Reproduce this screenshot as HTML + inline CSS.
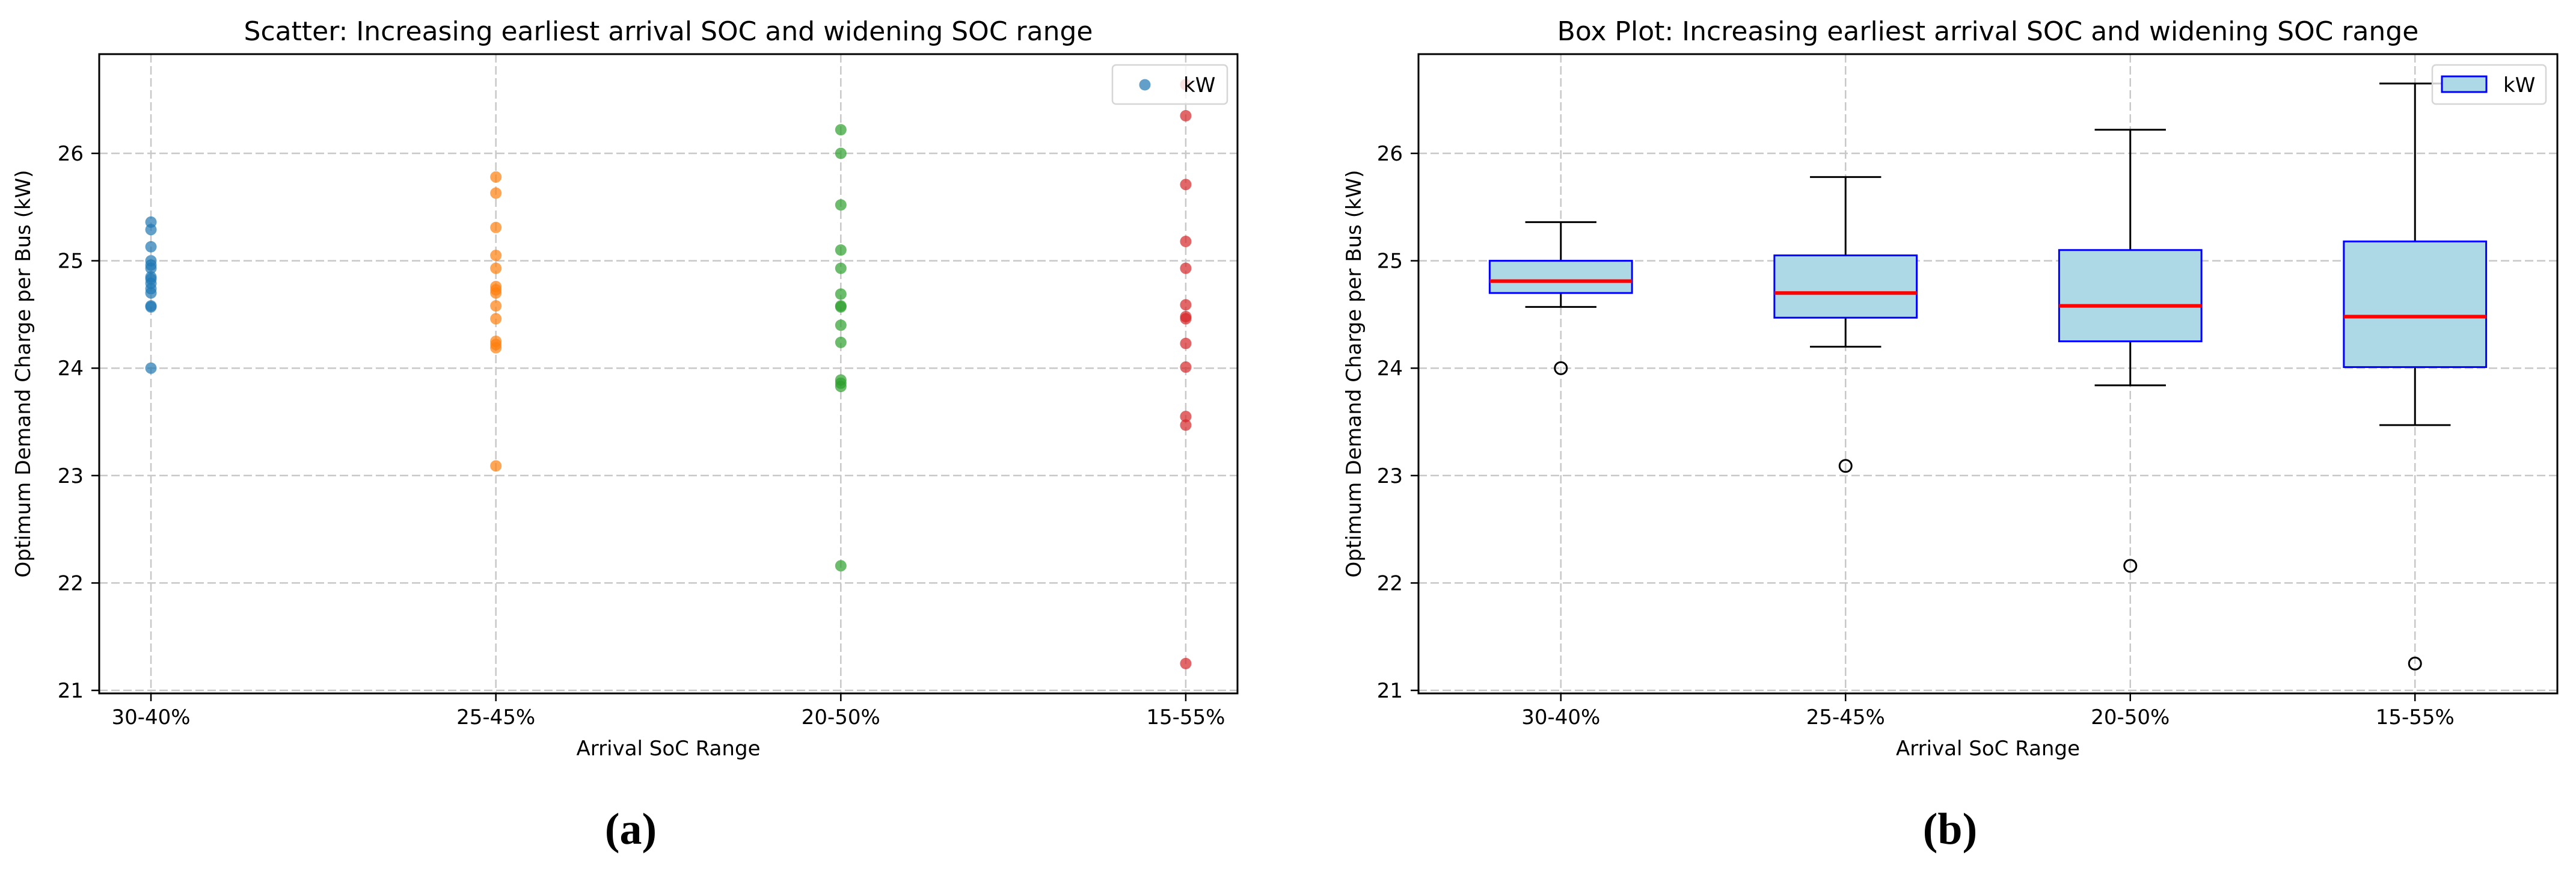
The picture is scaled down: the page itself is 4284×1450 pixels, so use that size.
<!DOCTYPE html>
<html><head><meta charset="utf-8"><style>
html,body{margin:0;padding:0;background:#fff;}
svg{display:block;}
text{font-family:"DejaVu Sans","Liberation Sans",sans-serif;fill:#000;}
.cap{font-family:"Liberation Serif","DejaVu Serif",serif;font-weight:bold;}
</style></head><body>
<svg id="fig" width="4284" height="1450" viewBox="0 0 4284 1450" xmlns="http://www.w3.org/2000/svg"></svg>
<script>
const categories = ["30-40%","25-45%","20-50%","15-55%"];
const yTicks = [21,22,23,24,25,26];
const scatterBlue = [25.36,25.29,25.13,25.0,24.96,24.93,24.85,24.83,24.79,24.74,24.70,24.58,24.57,24.0];
const scatterOrange = [25.78,25.63,25.31,25.05,24.93,24.76,24.73,24.70,24.58,24.46,24.25,24.22,24.19,23.09];
const scatterGreen = [26.22,26.0,25.52,25.10,24.93,24.69,24.58,24.57,24.40,24.24,23.89,23.86,23.83,22.16];
const scatterRed = [26.64,26.35,25.71,25.18,24.93,24.59,24.48,24.46,24.23,24.01,23.55,23.47,21.25];
const boxWhiskerLow = [24.57,24.20,23.84,23.47];
const boxQ1 = [24.70,24.47,24.25,24.01];
const boxMedian = [24.81,24.70,24.58,24.48];
const boxQ3 = [25.0,25.05,25.10,25.18];
const boxWhiskerHigh = [25.36,25.78,26.22,26.65];
const boxOutliers = [24.0,23.09,22.16,21.25];

const NS="http://www.w3.org/2000/svg";
const svg=document.getElementById('fig');
function mk(tag,attrs,parent,txt){const e=document.createElementNS(NS,tag);for(const k in attrs)e.setAttribute(k,attrs[k]);if(txt!==undefined)e.textContent=txt;(parent||svg).appendChild(e);return e;}

const TOP=90,BOT=1153,YMIN=20.972,YMAX=26.924;
function yScale(v){return BOT-(v-YMIN)/(YMAX-YMIN)*(BOT-TOP);}

function axes(name,L,R,xmin,xmax,xvals,title,labelX){
  const g=mk('g',{});
  
  
  const xs=v=>L+(v-xmin)/(xmax-xmin)*(R-L);
  const grid=mk('g',{},g);
  
  
  yTicks.forEach(t=>{const y=yScale(t);mk('line',{x1:L,x2:R,y1:y,y2:y,stroke:'#c8c8c8','stroke-width':2.5,'stroke-dasharray':'14,6'},grid);});
  xvals.forEach(v=>{const x=xs(v);mk('line',{x1:x,x2:x,y1:TOP,y2:BOT,stroke:'#c8c8c8','stroke-width':2.5,'stroke-dasharray':'14,6'},grid);});
  const ticks=mk('g',{},g);
  
  
  yTicks.forEach(t=>{const y=yScale(t);mk('line',{x1:L-13,x2:L,y1:y,y2:y,stroke:'#000','stroke-width':2.5},ticks);
    const tx=mk('text',{x:L-26,y:y+12,'font-size':34,'text-anchor':'end'},ticks,String(t));
    
    });
  const xt=mk('g',{},g);
  
  
  xvals.forEach((v,i)=>{const x=xs(v);mk('line',{x1:x,x2:x,y1:BOT,y2:BOT+13,stroke:'#000','stroke-width':2.5},xt);
    const tx=mk('text',{x:x,y:BOT+51,'font-size':34,'text-anchor':'middle'},xt,categories[i]);
    
    });
  const t=mk('text',{x:(L+R)/2,y:67,'font-size':44,'text-anchor':'middle'},g,title);
  
  
  const xl=mk('text',{x:(L+R)/2,y:1256,'font-size':34,'text-anchor':'middle'},g,'Arrival SoC Range');
  
  
  const yl=mk('text',{x:0,y:0,'font-size':34,'text-anchor':'middle',transform:`translate(${labelX},${(TOP+BOT)/2}) rotate(-90)`},g,'Optimum Demand Charge per Bus (kW)');
  
  
  return {g,xs};
}

// Scatter
const A=axes('scatter-chart',165,2058,-0.15,3.15,[0,1,2,3],'Scatter: Increasing earliest arrival SOC and widening SOC range',50);
const series=[scatterBlue,scatterOrange,scatterGreen,scatterRed];
const colors=['#1f77b4','#ff7f0e','#2ca02c','#d62728'];
series.forEach((s,i)=>{
  const sg=mk('g',{},A.g);
  
  
  s.forEach(v=>{const c=mk('circle',{cx:A.xs(i),cy:yScale(v),r:9.5,fill:colors[i],'fill-opacity':0.7},sg);
    
    });
});
const leg1=mk('g',{},A.g);


mk('rect',{x:1850,y:108,width:191,height:65,rx:6,fill:'#fff','fill-opacity':0.8,stroke:'#d6d6d6','stroke-width':2.5},leg1);
mk('circle',{cx:1904,cy:141,r:9.5,fill:'#1f77b4','fill-opacity':0.7},leg1);
mk('text',{x:1968,y:153,'font-size':34},leg1,'kW');
mk('rect',{x:165,y:TOP,width:2058-165,height:BOT-TOP,fill:'none',stroke:'#000','stroke-width':3},A.g);

// Box plot
const B=axes('box-chart',2359,4253,0.5,4.5,[1,2,3,4],'Box Plot: Increasing earliest arrival SOC and widening SOC range',2263);
const unit=(4253-2359)/4;
categories.forEach((c,i)=>{
  const x=B.xs(i+1);
  const bg=mk('g',{},B.g);
  
  
  const hw=unit*0.25, cw=unit*0.125;
  mk('line',{x1:x,x2:x,y1:yScale(boxWhiskerLow[i]),y2:yScale(boxQ1[i]),stroke:'#000','stroke-width':3},bg);
  mk('line',{x1:x,x2:x,y1:yScale(boxQ3[i]),y2:yScale(boxWhiskerHigh[i]),stroke:'#000','stroke-width':3},bg);
  mk('line',{x1:x-cw,x2:x+cw,y1:yScale(boxWhiskerLow[i]),y2:yScale(boxWhiskerLow[i]),stroke:'#000','stroke-width':3},bg);
  mk('line',{x1:x-cw,x2:x+cw,y1:yScale(boxWhiskerHigh[i]),y2:yScale(boxWhiskerHigh[i]),stroke:'#000','stroke-width':3},bg);
  mk('rect',{x:x-hw,y:yScale(boxQ3[i]),width:2*hw,height:yScale(boxQ1[i])-yScale(boxQ3[i]),fill:'#add8e6',stroke:'#0000ff','stroke-width':3},bg);
  mk('line',{x1:x-hw,x2:x+hw,y1:yScale(boxMedian[i]),y2:yScale(boxMedian[i]),stroke:'#ff0000','stroke-width':6},bg);
  const o=mk('circle',{cx:x,cy:yScale(boxOutliers[i]),r:10,fill:'none',stroke:'#000','stroke-width':3},bg);
  
  
});
const leg2=mk('g',{},B.g);


mk('rect',{x:4045,y:108,width:189,height:65,rx:6,fill:'#fff','fill-opacity':0.8,stroke:'#d6d6d6','stroke-width':2.5},leg2);
mk('rect',{x:4061,y:127,width:74,height:26,fill:'#add8e6',stroke:'#0000ff','stroke-width':3},leg2);
mk('text',{x:4163,y:153,'font-size':34},leg2,'kW');
mk('rect',{x:2359,y:TOP,width:4253-2359,height:BOT-TOP,fill:'none',stroke:'#000','stroke-width':3},B.g);

const ca=mk('text',{x:1049,y:1403,'font-size':74,'text-anchor':'middle',class:'cap'},svg,'(a)');


const cb=mk('text',{x:3243,y:1403,'font-size':74,'text-anchor':'middle',class:'cap'},svg,'(b)');


</script>
</body></html>
